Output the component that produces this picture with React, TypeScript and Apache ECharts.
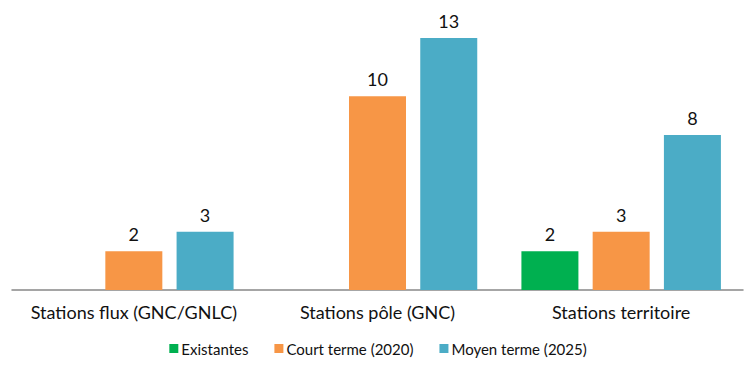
import React, { useEffect, useRef } from "react";
import * as echarts from "echarts";

const categories = ["Stations flux (GNC/GNLC)", "Stations pôle (GNC)", "Stations territoire"];
const existantes: (number | null)[] = [null, null, 2];
const courtTerme: (number | null)[] = [2, 10, 3];
const moyenTerme: (number | null)[] = [3, 13, 8];
const seriesNames = ["Existantes", "Court terme (2020)", "Moyen terme (2025)"];
const colors = ["#00B050", "#F79646", "#4BACC6"];

const FONT = "Lato, 'Noto Sans', sans-serif";

export default function App() {
  const ref = useRef<HTMLDivElement>(null);
  useEffect(() => {
    if (!ref.current) return;
    const chart = echarts.init(ref.current, null, { renderer: "svg" });
    const data = [existantes, courtTerme, moyenTerme];
    chart.setOption({
      animation: false,
      textStyle: { fontFamily: FONT },
      grid: { left: 12, right: 13, top: 18.6, bottom: 79, containLabel: false },
      legend: {
        bottom: 8,
        left: "center",
        itemWidth: 9,
        itemHeight: 9,
        itemGap: 26,
        icon: "rect",
        textStyle: { fontSize: 15, color: "#111111", fontFamily: FONT, padding: [0, 0, 0, -2] },
        data: seriesNames,
      },
      xAxis: {
        type: "category",
        data: categories,
        axisLine: { lineStyle: { color: "#888888", width: 1.5 } },
        axisTick: { show: false },
        axisLabel: {
          interval: 0,
          hideOverlap: false,
          fontSize: 18,
          color: "#111111",
          margin: 13,
          fontFamily: FONT,
        },
      },
      yAxis: {
        type: "value",
        min: 0,
        max: 14,
        show: false,
        splitLine: { show: false },
      },
      series: data.map((d, i) => ({
        name: seriesNames[i],
        type: "bar",
        data: d,
        barWidth: 57,
        barGap: "25%",
        itemStyle: { color: colors[i] },
        label: {
          show: true,
          position: "top",
          distance: 8,
          fontSize: 18,
          color: "#111111",
          fontFamily: FONT,
        },
      })),
    });
    return () => chart.dispose();
  }, []);
  return (
    <div
      ref={ref}
      style={{ position: "fixed", left: 0, top: 0, width: 756, height: 369, background: "#fff" }}
    />
  );
}
